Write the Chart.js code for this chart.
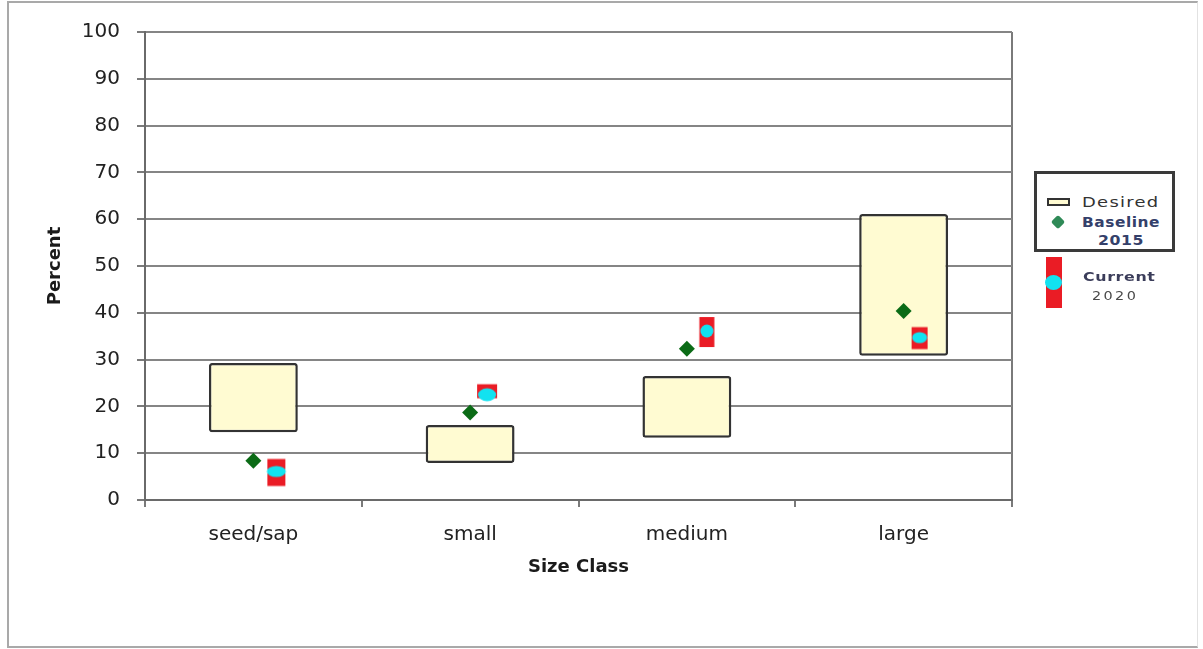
<!DOCTYPE html>
<html>
<head>
<meta charset="utf-8">
<script src="https://cdn.jsdelivr.net/npm/chart.js@4/dist/chart.umd.min.js"></script>
<style>
  html, body { margin: 0; padding: 0; background: #fff; }
  #wrap { position: relative; width: 1203px; height: 649px; overflow: hidden; font-family: "DejaVu Sans", sans-serif; }
  #frame { position: absolute; left: 7px; top: 1px; width: 1191px; height: 647px; box-sizing: border-box;
           border-left: 2px solid #a9a9a9; border-top: 2px solid #a9a9a9; border-bottom: 2px solid #a9a9a9;
           border-right: 1px solid #e2e2e2; pointer-events: none; }
  #chart { position: absolute; left: 0; top: 0; }
  .lg { position: absolute; }
  #lgBox { left: 1034px; top: 171px; width: 141px; height: 81px; box-sizing: border-box; border: 3px solid #3a3a3a; background: #fff; }
  #swDesired { left: 1047px; top: 198px; width: 23px; height: 8px; box-sizing: border-box; border: 2px solid #333; background: #fffbd2; }
  #swBase { left: 1053px; top: 217px; width: 10px; height: 10px; background: #2f8a57; transform: rotate(45deg); border-radius: 2px; }
  #swCurRect { left: 1046px; top: 257px; width: 16px; height: 51px; background: #ea1c25; }
  #swCurDot { left: 1045px; top: 275px; width: 17px; height: 15px; border-radius: 50%; background: #12e2f0; }
  .txt { white-space: nowrap; line-height: 16px; height: 16px; transform-origin: 0 50%; }
  #tDesired { left: 1082px; top: 194px; font-size: 14px; letter-spacing: 1px; color: #333; transform: scaleX(1.28); }
  #tBase { left: 1082px; top: 214px; font-size: 14px; font-weight: bold; letter-spacing: 0.5px; color: #34406a; transform: scaleX(1.1); }
  #t2015 { left: 1098px; top: 232px; font-size: 14px; font-weight: bold; letter-spacing: 0.5px; color: #34406a; transform: scaleX(1.12); }
  #tCur { left: 1083px; top: 269px; font-size: 13px; font-weight: bold; letter-spacing: 0.5px; color: #3b3d5a; transform: scaleX(1.22); }
  #t2020 { left: 1092px; top: 288px; font-size: 12px; letter-spacing: 2px; color: #4a4a4a; transform: scaleX(1.2); }
</style>
</head>
<body>
<div id="wrap">
  <canvas id="chart" width="1203" height="649"></canvas>
  <div id="frame"></div>
  <div class="lg" id="lgBox"></div>
  <div class="lg" id="swDesired"></div>
  <div class="lg" id="swBase"></div>
  <div class="lg txt" id="tDesired">Desired</div>
  <div class="lg txt" id="tBase">Baseline</div>
  <div class="lg txt" id="t2015">2015</div>
  <div class="lg" id="swCurRect"></div>
  <div class="lg" id="swCurDot"></div>
  <div class="lg txt" id="tCur">Current</div>
  <div class="lg txt" id="t2020">2020</div>
</div>
<script>
// Size classes along the x axis
const sizeClasses = ['seed/sap', 'small', 'medium', 'large'];
// Desired range (low / high percent) per size class
const desiredLow  = [14.5, 7.9, 13.3, 30.8];
const desiredHigh = [29.3, 16.0, 26.5, 61.1];
// Baseline 2015 percent per size class
const baseline2015 = [8.4, 18.7, 32.3, 40.4];
// Current 2020 percent per size class
const current2020 = [6.1, 22.5, 36.1, 34.7];
// Y axis range and step
const yMin = 0, yMax = 100, yStep = 10;

// Look of each "current" marker: red block behind a cyan oval, nudged right of the class centre
const currentMarkLook = [
  { shift: 23, rectW: 18, rectH: 27, rectDy: 1,    ovalW: 19, ovalH: 11 },
  { shift: 17, rectW: 20, rectH: 14, rectDy: -3.5, ovalW: 18, ovalH: 13 },
  { shift: 20, rectW: 15, rectH: 30, rectDy: 1,    ovalW: 13, ovalH: 13 },
  { shift: 16, rectW: 16, rectH: 22, rectDy: 0.5,  ovalW: 15, ovalH: 11 }
];

function makeCurrentMarker(s) {
  const half = Math.ceil(Math.abs(s.shift) + Math.max(s.rectW, s.ovalW) / 2 + 2);
  const vh = Math.ceil(Math.max(s.rectH / 2 + Math.abs(s.rectDy), s.ovalH / 2) + 2);
  const c = document.createElement('canvas');
  c.width = half * 2;
  c.height = vh * 2;
  const g = c.getContext('2d');
  const cx = half + s.shift, cy = vh;
  g.fillStyle = '#ea1c25';
  g.fillRect(cx - s.rectW / 2, cy + s.rectDy - s.rectH / 2, s.rectW, s.rectH);
  g.fillStyle = '#12e2f0';
  g.beginPath();
  g.ellipse(cx, cy, s.ovalW / 2, s.ovalH / 2, 0, 0, Math.PI * 2);
  g.fill();
  return c;
}

const tickFont = { family: 'DejaVu Sans', size: 20 };
const titleFont = { family: 'DejaVu Sans', size: 18, weight: 'bold' };

new Chart(document.getElementById('chart'), {
  type: 'bar',
  data: {
    labels: sizeClasses,
    datasets: [
      {
        label: 'Desired',
        data: desiredLow.map((lo, i) => [lo, desiredHigh[i]]),
        backgroundColor: '#fffbd2',
        borderColor: '#333333',
        borderWidth: 2.5,
        borderSkipped: false,
        borderRadius: 3,
        categoryPercentage: 1,
        barPercentage: 0.41,
        order: 3
      },
      {
        type: 'line',
        label: 'Baseline 2015',
        data: baseline2015,
        showLine: false,
        pointStyle: 'rectRot',
        pointRadius: 8,
        pointBackgroundColor: '#0b6b16',
        pointBorderColor: '#0b6b16',
        pointBorderWidth: 0,
        order: 2
      },
      {
        type: 'line',
        label: 'Current 2020',
        data: current2020,
        showLine: false,
        pointStyle: currentMarkLook.map(makeCurrentMarker),
        pointRadius: 10,
        order: 1
      }
    ]
  },
  options: {
    responsive: false,
    animation: false,
    events: [],
    layout: { padding: { left: 0, top: 32, right: 191, bottom: 0 } },
    plugins: { legend: { display: false }, tooltip: { enabled: false } },
    scales: {
      x: {
        offset: true,
        grid: {
          offset: true,
          drawOnChartArea: true,
          color: c => (c.type === 'tick' ? 'rgba(0,0,0,0)' : '#7a7a7a'),
          lineWidth: 2,
          tickLength: 7,
          tickColor: '#7a7a7a'
        },
        border: { color: '#6a6a6a', width: 2 },
        ticks: { padding: 16, color: '#222', font: tickFont },
        title: { display: true, text: 'Size Class', color: '#1a1a1a', font: titleFont, padding: { top: 0, bottom: 71 } },
        afterFit: s => { s.height = 149; }
      },
      y: {
        min: yMin,
        max: yMax,
        ticks: { stepSize: yStep, padding: 17, color: '#222', font: tickFont },
        grid: { color: '#858585', lineWidth: 2, tickLength: 8, tickColor: '#7a7a7a' },
        border: { color: '#6a6a6a', width: 2 },
        title: { display: true, text: 'Percent', color: '#1a1a1a', font: titleFont, padding: { top: 45, bottom: 0 } },
        afterFit: s => { s.width = 145; }
      }
    }
  }
});
</script>
</body>
</html>
